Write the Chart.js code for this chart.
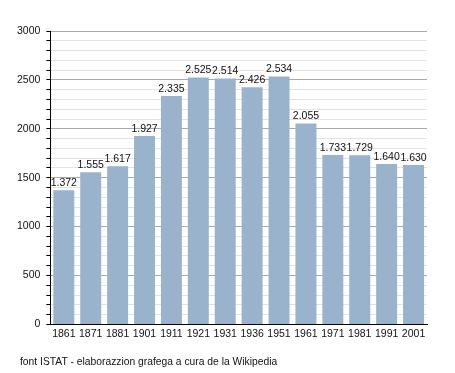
<!DOCTYPE html>
<html>
<head>
<meta charset="utf-8">
<script src="https://cdn.jsdelivr.net/npm/chart.js@4/dist/chart.umd.min.js"></script>
<style>
  html, body { margin: 0; padding: 0; background: #fff; }
  #wrap { width: 455px; height: 373px; position: relative; }
</style>
</head>
<body>
<div id="wrap"><canvas id="chart" width="455" height="373"></canvas></div>
<script>
// census years and population
const years = ["1861", "1871", "1881", "1901", "1911", "1921", "1931", "1936", "1951", "1961", "1971", "1981", "1991", "2001"];
const population = [1372, 1555, 1617, 1927, 2335, 2525, 2514, 2426, 2534, 2055, 1733, 1729, 1640, 1630];
const yTicks = [0, 500, 1000, 1500, 2000, 2500, 3000];
const footerText = "font ISTAT - elaborazzion grafega a cura de la Wikipedia";

const FONT = "'Liberation Sans', Arial, sans-serif";

// thousands with a dot, like 1.372
function fmt(v) {
    return String(v).replace(/\B(?=(\d{3})+(?!\d))/g, ".");
}

const valueLabels = {
    id: "valueLabels",
    afterDatasetsDraw(chart) {
        const ctx = chart.ctx;
        const meta = chart.getDatasetMeta(0);
        ctx.save();
        ctx.font = "10.5px " + FONT;
        ctx.fillStyle = "#111";
        ctx.textAlign = "center";
        ctx.textBaseline = "bottom";
        meta.data.forEach((bar, i) => {
            ctx.fillText(fmt(population[i]), bar.x, bar.y - 2);
        });
        ctx.restore();
    }
};

const footer = {
    id: "footer",
    afterDraw(chart) {
        const ctx = chart.ctx;
        ctx.save();
        ctx.font = "10.3px " + FONT;
        ctx.fillStyle = "#111";
        ctx.textAlign = "left";
        ctx.textBaseline = "middle";
        ctx.fillText(footerText, 20, 362);
        ctx.restore();
    }
};

new Chart(document.getElementById("chart"), {
    type: "bar",
    data: {
        labels: years,
        datasets: [{
            data: population,
            backgroundColor: "#9ab3cc",
            borderWidth: 0,
            barPercentage: 0.78,
            categoryPercentage: 1.0
        }]
    },
    options: {
        responsive: false,
        animation: false,
        devicePixelRatio: 1,
        layout: { padding: { left: 11, right: 28, top: 31, bottom: 30 } },
        plugins: {
            legend: { display: false },
            tooltip: { enabled: false }
        },
        scales: {
            x: {
                grid: { display: false, drawTicks: false },
                border: { color: "#000", width: 1 },
                ticks: { color: "#111", font: { family: FONT, size: 10.5 }, padding: 3, maxRotation: 0, autoSkip: false }
            },
            y: {
                min: 0,
                max: 3000,
                border: { color: "#000", width: 1 },
                grid: {
                    color: c => (c.tick && c.tick.value % 500 === 0) ? "#aaaaaa" : "#e2e2e2",
                    tickColor: "#000",
                    tickLength: 4,
                    lineWidth: 1
                },
                ticks: {
                    stepSize: 100,
                    autoSkip: false,
                    color: "#111",
                    font: { family: FONT, size: 10.5 },
                    padding: 6,
                    callback: v => yTicks.includes(v) ? String(v) : ""
                }
            }
        }
    },
    plugins: [valueLabels, footer]
});
</script>
</body>
</html>
